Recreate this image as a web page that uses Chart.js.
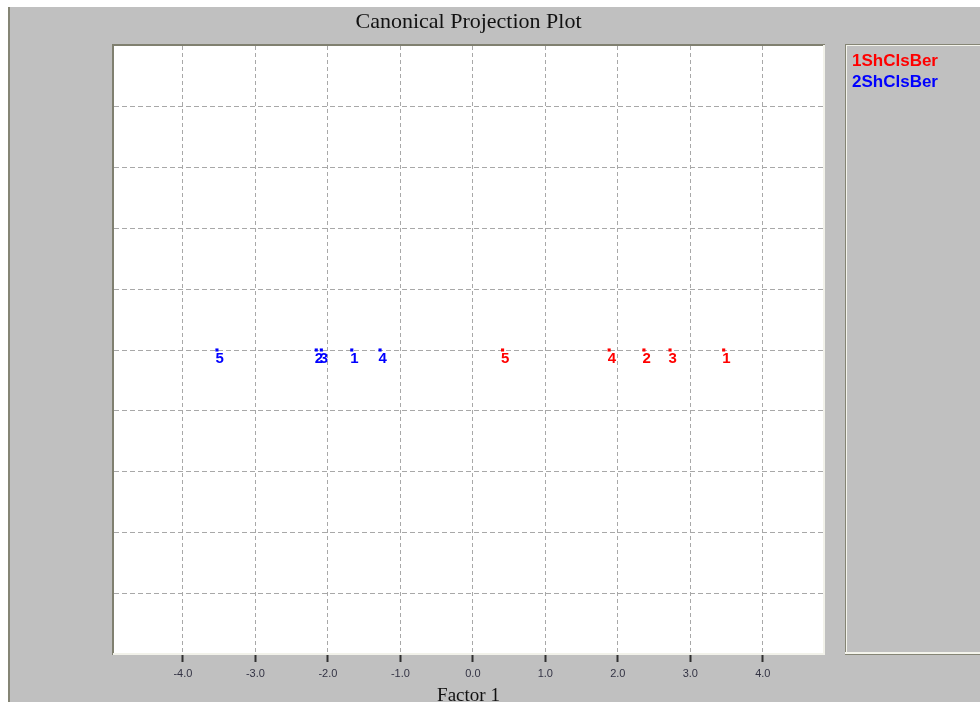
<!DOCTYPE html>
<html>
<head>
<meta charset="utf-8">
<script src="https://cdn.jsdelivr.net/npm/chart.js@4"></script>
<style>
  html, body { margin: 0; padding: 0; background: #ffffff; }
  #c { display: block; }
</style>
</head>
<body>
<canvas id="c" width="980" height="702" style="width:980px;height:702px"></canvas>
<script>
// ---- data ----
const chartTitle = 'Canonical Projection Plot';
const xAxisTitle = 'Factor 1';
const groupNames = ['1ShClsBer', '2ShClsBer'];
const groupColors = ['#ff0000', '#0000ff'];
const group1Ids = ['1', '2', '3', '4', '5'];
const group1X = [3.46, 2.36, 2.72, 1.88, 0.41];
const group1Y = [0, 0, 0, 0, 0];
const group2Ids = ['1', '2', '3', '4', '5'];
const group2X = [-1.67, -2.16, -2.09, -1.28, -3.53];
const group2Y = [0, 0, 0, 0, 0];
const xTickValues = [-4, -3, -2, -1, 0, 1, 2, 3, 4];
const yGridValues = [-4, -3, -2, -1, 0, 1, 2, 3, 4];

function pts(xs, ys) { return xs.map((x, i) => ({ x: x, y: ys[i] })); }

const framePlugin = {
  id: 'frame',
  beforeDraw(chart) {
    const ctx = chart.ctx, a = chart.chartArea;
    ctx.save();
    ctx.fillStyle = '#ffffff';
    ctx.fillRect(0, 0, chart.width, chart.height);
    ctx.fillStyle = '#c0c0c0';
    ctx.fillRect(9, 7, chart.width - 9, chart.height - 7);
    ctx.fillStyle = '#858575';
    ctx.fillRect(8, 7, 2, chart.height - 7);
    ctx.fillStyle = '#ffffff';
    ctx.fillRect(a.left, a.top, a.right - a.left, a.bottom - a.top);
    ctx.restore();
  },
  afterDraw(chart) {
    const ctx = chart.ctx, a = chart.chartArea;
    ctx.save();
    // sunken plot frame
    ctx.fillStyle = '#808070';
    ctx.fillRect(a.left - 2, a.top - 2, a.right - a.left + 4, 2);
    ctx.fillRect(a.left - 2, a.top - 2, 2, a.bottom - a.top + 3);
    ctx.fillStyle = '#f2f2ea';
    ctx.fillRect(a.left - 1, a.bottom - 1, a.right - a.left + 3, 2);
    ctx.fillRect(a.right, a.top - 1, 2, a.bottom - a.top + 1);
    // legend box
    const lx = 845, ly = 44, lb = 655;
    ctx.fillStyle = '#858575';
    ctx.fillRect(lx, ly, chart.width - lx, 1);
    ctx.fillRect(lx, ly, 1, lb - ly);
    ctx.fillRect(lx, lb - 1, chart.width - lx, 1);
    ctx.fillStyle = '#f4f4ec';
    ctx.fillRect(lx + 1, ly + 1, chart.width - lx, 1);
    ctx.fillRect(lx + 1, ly + 1, 1, lb - ly - 3);
    ctx.fillRect(lx, lb - 3, chart.width - lx, 2);
    // legend texts
    ctx.font = 'bold 17px "Liberation Sans", Arial, sans-serif';
    ctx.textAlign = 'left';
    ctx.textBaseline = 'alphabetic';
    groupNames.forEach((n, i) => {
      ctx.fillStyle = groupColors[i];
      ctx.fillText(n, 852, 66 + i * 21);
    });
    // title and axis title
    ctx.fillStyle = '#111111';
    ctx.textAlign = 'center';
    ctx.font = '22px "Liberation Serif", "Times New Roman", serif';
    ctx.fillText(chartTitle, (a.left + a.right) / 2, 28);
    ctx.font = '19px "Liberation Serif", "Times New Roman", serif';
    ctx.fillText(xAxisTitle, (a.left + a.right) / 2, 701);
    ctx.restore();
  },
  afterDatasetsDraw(chart) {
    const ctx = chart.ctx;
    const idSets = [group1Ids, group2Ids];
    ctx.save();
    ctx.font = 'bold 15px "Liberation Sans", Arial, sans-serif';
    ctx.textAlign = 'left';
    ctx.textBaseline = 'top';
    chart.data.datasets.forEach((ds, di) => {
      const meta = chart.getDatasetMeta(di);
      ctx.fillStyle = groupColors[di];
      meta.data.forEach((el, i) => {
        ctx.fillText(idSets[di][i], el.x - 1.5, el.y + 1);
      });
    });
    ctx.restore();
  }
};

new Chart(document.getElementById('c'), {
  type: 'scatter',
  data: {
    datasets: [
      {
        label: groupNames[0],
        data: pts(group1X, group1Y),
        backgroundColor: groupColors[0],
        borderWidth: 0,
        pointStyle: 'rect',
        pointRadius: 2.2
      },
      {
        label: groupNames[1],
        data: pts(group2X, group2Y),
        backgroundColor: groupColors[1],
        borderWidth: 0,
        pointStyle: 'rect',
        pointRadius: 2.2
      }
    ]
  },
  options: {
    responsive: false,
    animation: false,
    devicePixelRatio: 1,
    layout: { padding: { left: 114, top: 46, right: 157, bottom: 0 } },
    plugins: {
      legend: { display: false },
      title: { display: false },
      tooltip: { enabled: false }
    },
    scales: {
      x: {
        type: 'linear',
        min: -4.95,
        max: 4.83,
        afterBuildTicks(scale) { scale.ticks = xTickValues.map(v => ({ value: v })); },
        afterFit(scale) { scale.height = 48; },
        border: { display: false, dash: [4, 3] },
        grid: {
          color: '#a8a8a8',
          lineWidth: 1,
          drawTicks: true,
          tickLength: 8,
          tickColor: '#303030',
          tickWidth: 2,
          tickBorderDash: []
        },
        ticks: {
          padding: 5,
          color: '#333344',
          font: { family: '"Liberation Sans", Arial, sans-serif', size: 11 },
          maxRotation: 0,
          autoSkip: false,
          callback: (v) => Number(v).toFixed(1)
        }
      },
      y: {
        type: 'linear',
        min: -5,
        max: 5,
        afterBuildTicks(scale) { scale.ticks = yGridValues.map(v => ({ value: v })); },
        afterFit(scale) { scale.width = 0; },
        border: { display: false, dash: [5, 3] },
        grid: { color: '#a8a8a8', lineWidth: 1, drawTicks: false },
        ticks: { display: false }
      }
    }
  },
  plugins: [framePlugin]
});
</script>
</body>
</html>
